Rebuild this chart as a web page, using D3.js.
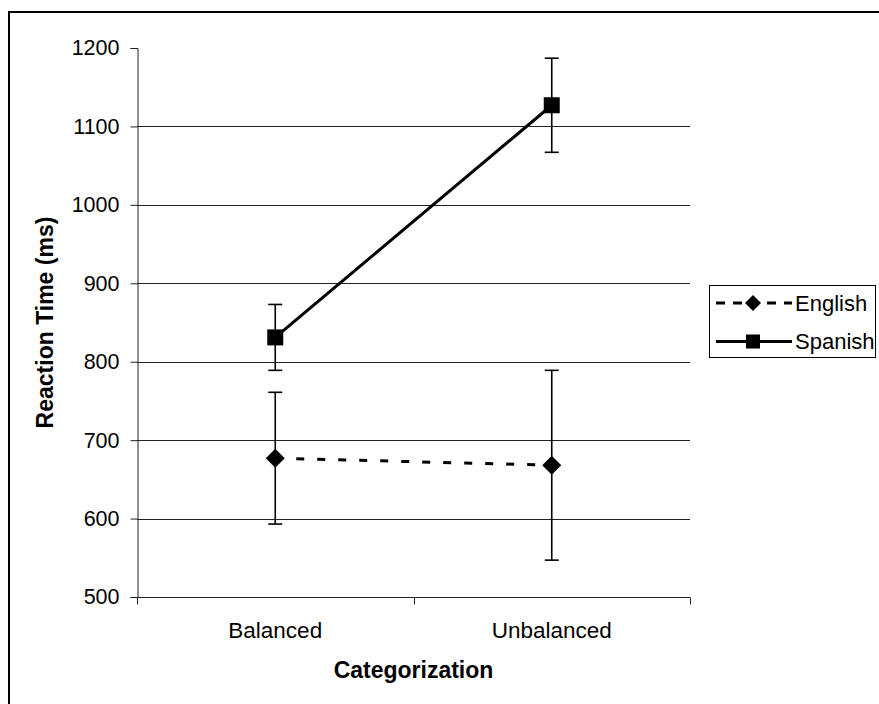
<!DOCTYPE html>
<html>
<head>
<meta charset="utf-8">
<script src="https://cdn.jsdelivr.net/npm/d3@7"></script>
<style>
  html, body { margin: 0; padding: 0; background: #fff; }
  svg { display: block; font-family: "Liberation Sans", Arial, sans-serif; }
</style>
</head>
<body>
<svg id="chart" width="879" height="704"></svg>
<script>
// Mean reaction times (ms) with error-bar half-widths, per categorization condition
const categories = ["Balanced", "Unbalanced"];
const seriesNames = ["English", "Spanish"];
const englishMeans = [677, 668];
const englishErrors = [84, 121];
const spanishMeans = [831, 1127];
const spanishErrors = [42, 60];
const yTicks = [500, 600, 700, 800, 900, 1000, 1100, 1200];

const series = [
  { name: seriesNames[0], means: englishMeans, errors: englishErrors, dash: "8,13", marker: "diamond" },
  { name: seriesNames[1], means: spanishMeans, errors: spanishErrors, dash: null, marker: "square" }
];

const svg = d3.select("#chart");
const W = 879, H = 704;
const plot = { left: 137, right: 690, top: 48, bottom: 597 };

// Outer chart frame (runs off the right and bottom edges)
svg.append("rect")
  .attr("x", 9).attr("y", 12)
  .attr("width", W + 10).attr("height", H + 10)
  .attr("fill", "#fff").attr("stroke", "#000").attr("stroke-width", 2);

const x = d3.scaleBand().domain(categories).range([plot.left, plot.right]);
const y = d3.scaleLinear().domain([500, 1200]).range([plot.bottom, plot.top]);
const cx = c => x(c) + x.bandwidth() / 2;

// Horizontal gridlines
svg.append("g").selectAll("line")
  .data(yTicks.filter(t => t > 500 && t < 1200))
  .join("line")
  .attr("x1", plot.left).attr("x2", plot.right)
  .attr("y1", d => Math.round(y(d)) + 0.5).attr("y2", d => Math.round(y(d)) + 0.5)
  .attr("stroke", "#222").attr("stroke-width", 1);

// Y axis
const yAxis = svg.append("g")
  .attr("transform", `translate(${plot.left + 0.5},0)`)
  .call(d3.axisLeft(y).tickValues(yTicks).tickSize(7).tickPadding(11).tickFormat(d3.format("d")));
yAxis.select(".domain").attr("stroke", "#222");
yAxis.selectAll(".tick line").attr("stroke", "#222");
yAxis.selectAll(".tick text")
  .attr("font-size", 21.5).attr("fill", "#000")
  .attr("font-family", "'Liberation Sans', Arial, sans-serif");

// X axis with ticks at the category boundaries
const xAxisG = svg.append("g").attr("transform", `translate(0,${plot.bottom + 0.5})`);
xAxisG.append("line")
  .attr("x1", plot.left).attr("x2", plot.right)
  .attr("stroke", "#222");
const boundaries = categories.map(c => x(c)).concat([plot.right]);
xAxisG.selectAll("line.tk").data(boundaries).join("line")
  .attr("class", "tk")
  .attr("x1", d => Math.round(d) + 0.5).attr("x2", d => Math.round(d) + 0.5)
  .attr("y1", 0).attr("y2", 7)
  .attr("stroke", "#222");
xAxisG.selectAll("text").data(categories).join("text")
  .attr("x", d => cx(d)).attr("y", 40)
  .attr("text-anchor", "middle")
  .attr("font-size", 22.5)
  .text(d => d);

// Axis titles
svg.append("text")
  .attr("x", plot.left + (plot.right - plot.left) / 2).attr("y", 678)
  .attr("text-anchor", "middle").attr("font-size", 23).attr("font-weight", "bold")
  .text("Categorization");
svg.append("text")
  .attr("transform", `translate(53,${(plot.top + plot.bottom) / 2}) rotate(-90)`)
  .attr("text-anchor", "middle").attr("font-size", 23).attr("font-weight", "bold")
  .text("Reaction Time (ms)");

const line = d3.line().x((d, i) => cx(categories[i])).y(d => y(d));

function drawMarker(g, type, px, py, size) {
  if (type === "square") {
    g.append("rect")
      .attr("x", px - size / 2).attr("y", py - size / 2)
      .attr("width", size).attr("height", size).attr("fill", "#000");
  } else {
    const r = size / 2;
    g.append("path")
      .attr("d", `M${px},${py - r}L${px + r},${py}L${px},${py + r}L${px - r},${py}Z`)
      .attr("fill", "#000");
  }
}

series.forEach(s => {
  const g = svg.append("g");
  // Error bars
  categories.forEach((c, i) => {
    const px = cx(c);
    const hi = y(s.means[i] + s.errors[i]);
    const lo = y(s.means[i] - s.errors[i]);
    g.append("line").attr("x1", px).attr("x2", px).attr("y1", hi).attr("y2", lo)
      .attr("stroke", "#000").attr("stroke-width", 1.6);
    [hi, lo].forEach(v => g.append("line")
      .attr("x1", px - 7).attr("x2", px + 7).attr("y1", v).attr("y2", v)
      .attr("stroke", "#000").attr("stroke-width", 1.6));
  });
  // Series line
  g.append("path").datum(s.means)
    .attr("d", line)
    .attr("fill", "none").attr("stroke", "#000").attr("stroke-width", 3)
    .attr("stroke-dasharray", s.dash);
  // Markers
  s.means.forEach((m, i) => drawMarker(g, s.marker, cx(categories[i]), y(m), s.marker === "square" ? 16 : 19));
});

// Legend
const legend = svg.append("g");
legend.append("rect")
  .attr("x", 709.5).attr("y", 285.5).attr("width", 166).attr("height", 72)
  .attr("fill", "#fff").attr("stroke", "#000").attr("stroke-width", 1);
series.forEach((s, i) => {
  const ly = 303 + i * 38.5;
  legend.append("line")
    .attr("x1", 716).attr("x2", 792).attr("y1", ly).attr("y2", ly)
    .attr("stroke", "#000").attr("stroke-width", 3)
    .attr("stroke-dasharray", s.dash ? "9,8" : null);
  drawMarker(legend, s.marker, 753, ly, s.marker === "square" ? 14 : 16);
  legend.append("text")
    .attr("x", 795).attr("y", ly).attr("dy", "0.35em")
    .attr("font-size", 22).text(s.name);
});
</script>
</body>
</html>
